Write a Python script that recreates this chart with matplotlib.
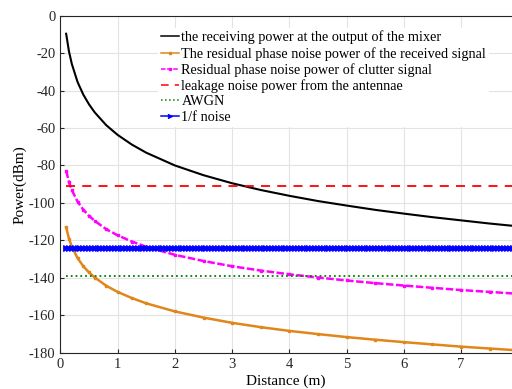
"""
Potencia recibida vs. distancia y niveles de ruido (recreación).
"""

import numpy as np
import matplotlib

matplotlib.use("Agg")
import matplotlib.pyplot as plt

plt.rcParams["font.family"] = ["Liberation Serif", "DejaVu Serif"]
plt.rcParams["axes.unicode_minus"] = False

# distancias (m) donde se leyeron los valores de las curvas
distance = [0.1, 0.15, 0.2, 0.3, 0.4, 0.5, 0.6, 0.8, 1.0, 1.25, 1.5, 2.0,
            2.5, 3.0, 3.5, 4.0, 4.5, 5.0, 5.5, 6.0, 6.5, 7.0, 7.5, 8.0]

# potencia a la salida del mezclador (dBm)
rx_power = [-9.7, -19.2, -25.9, -35.5, -42.2, -47.4, -51.7, -58.5, -63.7,
            -68.9, -73.2, -80.0, -85.2, -89.5, -93.1, -96.2, -99.0, -101.4,
            -103.7, -105.7, -107.6, -109.3, -111.0, -112.5]

# ruido de fase residual de la señal recibida (dBm)
pn_received = [-113.0, -119.1, -123.4, -129.5, -133.8, -137.1, -139.8, -144.2,
               -147.5, -150.8, -153.6, -157.9, -161.2, -164.0, -166.3, -168.3,
               -170.0, -171.6, -173.0, -174.3, -175.5, -176.7, -177.7, -178.7]

# ruido de fase residual del clutter (dBm)
pn_clutter = [-82.8, -88.9, -93.2, -99.3, -103.6, -106.9, -109.6, -114.0,
              -117.3, -120.6, -123.4, -127.7, -131.0, -133.8, -136.1, -138.1,
              -139.8, -141.4, -142.8, -144.1, -145.3, -146.5, -147.5, -148.5]

# niveles constantes (dBm)
leakage_level = -91.0
awgn_level = -139.0
flicker_level = -124.0

labels = [
    "the receiving power at the output of the mixer",
    "The residual phase noise power of the received signal",
    "Residual phase noise power of clutter signal",
    "leakage noise power from the antennae",
    "AWGN",
    "1/f noise",
]


def main() -> None:
    fig = plt.figure(figsize=(5.12, 3.89), dpi=100)
    ax = fig.add_axes([0.118, 0.093, 0.882, 0.867])

    flat_d = np.arange(0.1, 8.0, 0.05)

    ax.plot(distance, rx_power, color="k", lw=1.5, label=labels[0])
    ax.plot(distance, pn_received, color="#E0861A", lw=1.8, marker="s",
            ms=2, label=labels[1])
    ax.plot(distance, pn_clutter, color="#FF00FF", lw=1.8, ls=(0, (3, 1)),
            marker="s", ms=2, label=labels[2])
    ax.plot(flat_d, [leakage_level] * len(flat_d), color="#FF0000", lw=1.3,
            ls=(0, (5, 4)), label=labels[3])
    ax.plot(flat_d, [awgn_level] * len(flat_d), color="#008000", lw=1.3,
            ls=":", label=labels[4])
    ax.plot(flat_d, [flicker_level] * len(flat_d), color="#0000FF", lw=1.0,
            marker=">", ms=4, mew=0.6, label=labels[5])

    ax.set_xlim(0, 7.89)
    ax.set_ylim(-180, 0)
    ax.set_xticks(range(0, 8))
    ax.set_yticks(range(-180, 1, 20))
    ax.tick_params(direction="in", labelsize=10.5, colors="#262626", length=3)
    ax.grid(True, color="#e3e3e3", lw=0.8)
    ax.set_axisbelow(True)
    ax.spines["right"].set_visible(False)
    for s in ("left", "bottom", "top"):
        ax.spines[s].set_color("#262626")

    ax.set_xlabel("Distance (m)", fontsize=11, labelpad=3)
    ax.set_ylabel("Power(dBm)", fontsize=11, labelpad=2)

    leg = ax.legend(loc="upper left", bbox_to_anchor=(0.2, 0.985),
                    frameon=True, edgecolor="none", framealpha=1.0,
                    fancybox=False, fontsize=10.3, handlelength=1.3,
                    handletextpad=0.15, labelspacing=0.17, borderpad=0.2,
                    markerscale=0.8)
    for h in leg.get_lines():
        h.set_linewidth(1.1)

    fig.savefig("out.png", dpi=100)


if __name__ == "__main__":
    main()
